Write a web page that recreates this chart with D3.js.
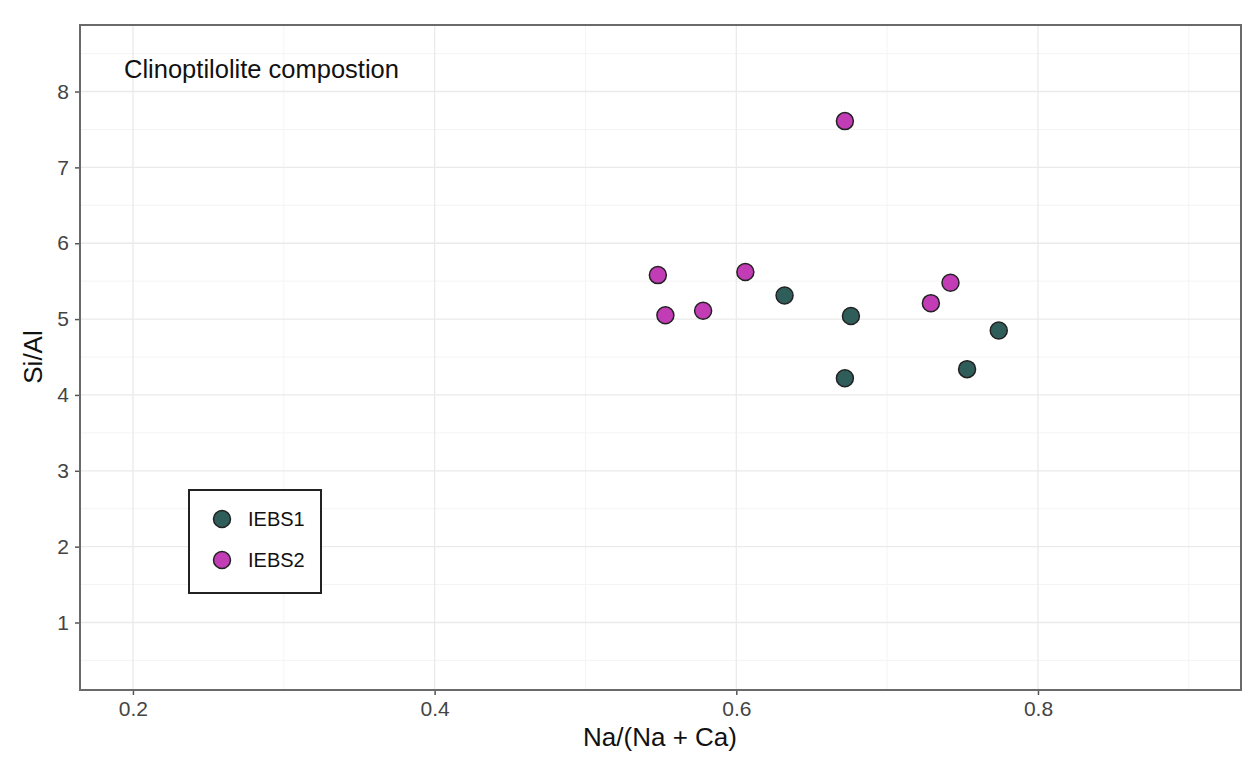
<!DOCTYPE html>
<html>
<head>
<meta charset="utf-8">
<script src="https://cdn.jsdelivr.net/npm/d3@7"></script>
<style>
  body { margin: 0; background: #fff; }
  text { font-family: "Liberation Sans", Arial, sans-serif; }
</style>
</head>
<body>
<div id="chart"></div>
<script>
// data
const groups = ["IEBS1", "IEBS2"];
const groupColors = ["#2f5d5a", "#c13cb5"];

const iebs1_x = [0.632, 0.676, 0.672, 0.753, 0.774];
const iebs1_y = [5.31, 5.04, 4.22, 4.34, 4.85];

const iebs2_x = [0.548, 0.553, 0.578, 0.606, 0.672, 0.729, 0.742];
const iebs2_y = [5.58, 5.05, 5.11, 5.62, 7.61, 5.21, 5.48];

const xTicks = [0.2, 0.4, 0.6, 0.8];
const xMinor = [0.3, 0.5, 0.7, 0.9];
const yTicks = [1, 2, 3, 4, 5, 6, 7, 8];
const yMinor = [0.5, 1.5, 2.5, 3.5, 4.5, 5.5, 6.5, 7.5, 8.5];

let width = 1248, height = 762;
let margin = { top: 25, bottom: 72, left: 80, right: 7 };

let svg = d3.select("#chart")
  .append("svg")
  .attr("width", width)
  .attr("height", height);

let xscale = d3.scaleLinear()
  .domain([0.1649, 0.9346])
  .range([margin.left, width - margin.right]);

let yscale = d3.scaleLinear()
  .domain([0.110, 8.877])
  .range([height - margin.bottom, margin.top]);

// grid (minor first, then major)
svg.append("g").selectAll("line")
  .data(xMinor).join("line")
  .attr("x1", d => xscale(d)).attr("x2", d => xscale(d))
  .attr("y1", margin.top).attr("y2", height - margin.bottom)
  .attr("stroke", "#f4f4f4").attr("stroke-width", 1);

svg.append("g").selectAll("line")
  .data(yMinor).join("line")
  .attr("x1", margin.left).attr("x2", width - margin.right)
  .attr("y1", d => yscale(d)).attr("y2", d => yscale(d))
  .attr("stroke", "#f4f4f4").attr("stroke-width", 1);

svg.append("g").selectAll("line")
  .data(xTicks).join("line")
  .attr("x1", d => xscale(d)).attr("x2", d => xscale(d))
  .attr("y1", margin.top).attr("y2", height - margin.bottom)
  .attr("stroke", "#eaeaea").attr("stroke-width", 1.3);

svg.append("g").selectAll("line")
  .data(yTicks).join("line")
  .attr("x1", margin.left).attr("x2", width - margin.right)
  .attr("y1", d => yscale(d)).attr("y2", d => yscale(d))
  .attr("stroke", "#eaeaea").attr("stroke-width", 1.3);

// axes
let xaxis = svg.append("g")
  .attr("transform", `translate(0, ${height - margin.bottom})`)
  .call(d3.axisBottom(xscale).tickValues(xTicks).tickFormat(d3.format(".1f")).tickSize(5).tickPadding(6));

let yaxis = svg.append("g")
  .attr("transform", `translate(${margin.left}, 0)`)
  .call(d3.axisLeft(yscale).tickValues(yTicks).tickSize(5).tickPadding(6));

[xaxis, yaxis].forEach(a => {
  a.select(".domain").remove();
  a.selectAll(".tick line").attr("stroke", "#555").attr("stroke-width", 1.5);
  a.selectAll(".tick text")
    .attr("fill", "#444")
    .attr("font-size", 21)
    .style("font-family", "Liberation Sans, Arial, sans-serif");
});

// panel border
svg.append("rect")
  .attr("x", margin.left)
  .attr("y", margin.top)
  .attr("width", width - margin.left - margin.right)
  .attr("height", height - margin.top - margin.bottom)
  .attr("fill", "none")
  .attr("stroke", "#6a6a6a")
  .attr("stroke-width", 2);

// points
const series = [
  { name: groups[0], color: groupColors[0], xs: iebs1_x, ys: iebs1_y },
  { name: groups[1], color: groupColors[1], xs: iebs2_x, ys: iebs2_y }
];

series.forEach(s => {
  svg.append("g").selectAll("circle")
    .data(s.xs.map((x, i) => ({ x: x, y: s.ys[i] })))
    .join("circle")
    .attr("cx", d => xscale(d.x))
    .attr("cy", d => yscale(d.y))
    .attr("r", 8.5)
    .attr("fill", s.color)
    .attr("stroke", "#222")
    .attr("stroke-width", 1.5);
});

// labels
svg.append("text")
  .attr("x", 124)
  .attr("y", 78)
  .attr("font-size", 25.5)
  .attr("fill", "#111")
  .text("Clinoptilolite compostion");

svg.append("text")
  .attr("x", 660)
  .attr("y", 746)
  .attr("text-anchor", "middle")
  .attr("font-size", 26)
  .attr("fill", "#111")
  .text("Na/(Na + Ca)");

svg.append("text")
  .attr("transform", "translate(42, 357) rotate(-90)")
  .attr("text-anchor", "middle")
  .attr("font-size", 26)
  .attr("fill", "#111")
  .text("Si/Al");

// legend
let legend = svg.append("g");
legend.append("rect")
  .attr("x", 189).attr("y", 490)
  .attr("width", 132).attr("height", 103)
  .attr("fill", "#fff")
  .attr("stroke", "#222")
  .attr("stroke-width", 2);

series.forEach((s, i) => {
  legend.append("circle")
    .attr("cx", 222).attr("cy", 519 + i * 41)
    .attr("r", 8.5)
    .attr("fill", s.color)
    .attr("stroke", "#222")
    .attr("stroke-width", 1.5);
  legend.append("text")
    .attr("x", 248).attr("y", 519 + i * 41)
    .attr("dy", "0.35em")
    .attr("font-size", 20)
    .attr("fill", "#111")
    .text(s.name);
});
</script>
</body>
</html>
